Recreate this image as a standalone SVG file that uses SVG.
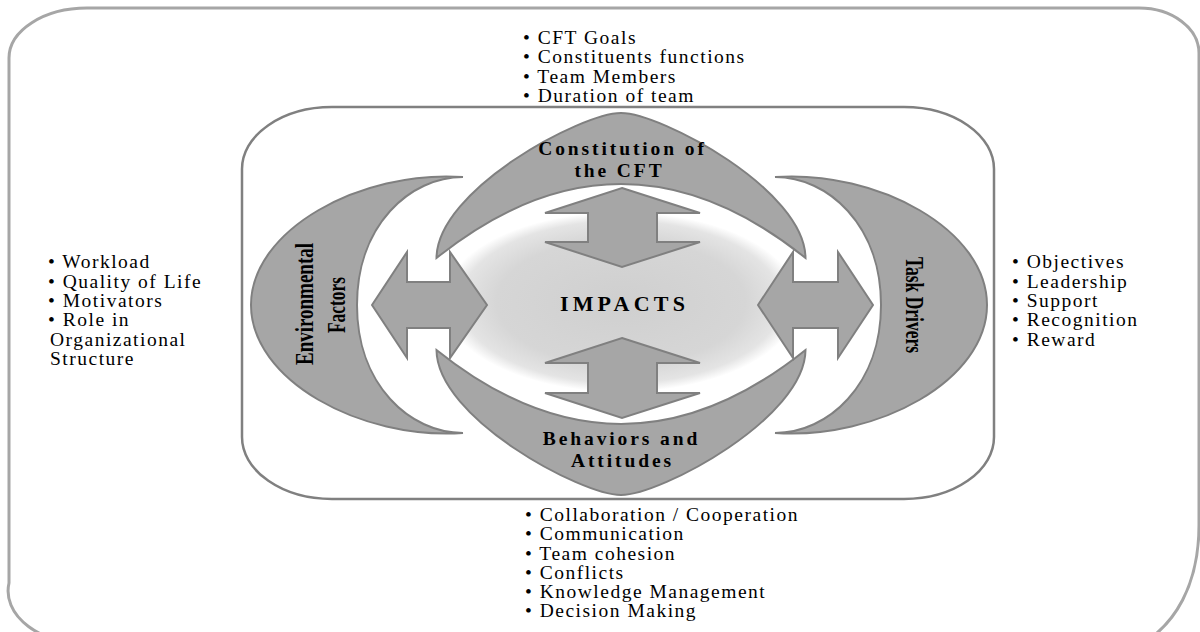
<svg xmlns="http://www.w3.org/2000/svg" width="1200" height="632" viewBox="0 0 1200 632">
  <defs>
    <radialGradient id="impGrad" cx="50%" cy="50%" r="50%">
      <stop offset="0" stop-color="#cfcfcf"/>
      <stop offset="0.7" stop-color="#d6d6d6"/>
      <stop offset="0.9" stop-color="#e4e4e4"/>
      <stop offset="1" stop-color="#ffffff"/>
    </radialGradient>
    <style>
      .shape { fill:#a6a6a6; stroke:#808080; stroke-width:2; stroke-linejoin:miter; }
      .arrow { fill:#a6a6a6; stroke:#808080; stroke-width:2; stroke-linejoin:miter; }
      .lbl { font-family:"Liberation Serif","Times New Roman",serif; font-weight:bold; font-size:19.5px; fill:#000; letter-spacing:2.9px; text-anchor:middle; }
      .rot { font-family:"Liberation Serif","Times New Roman",serif; font-weight:bold; font-size:25px; fill:#000; }
      .list { font-family:"Liberation Serif","Times New Roman",serif; font-size:19.5px; fill:#000; letter-spacing:1.5px; }
    </style>
  </defs>
  <rect width="1200" height="632" fill="#ffffff"/>

  <g id="outer-frame">
    <path d="M9,58 A78,50 0 0 1 87,8 H1139 A60,45 0 0 1 1199,53 V525 C1199,585 1175,625 1140,645 H92 A83,54 0 0 1 9,583 Z" fill="none" stroke="#a6a6a6" stroke-width="3"/>
  </g>

  <g id="inner-frame">
    <rect x="242" y="107" width="752" height="392" rx="90" ry="62" fill="none" stroke="#808080" stroke-width="2.5"/>
  </g>

  <g id="impacts">
    <ellipse cx="621" cy="302" rx="178" ry="90" fill="url(#impGrad)"/>
    <text class="lbl" x="624.5" y="311" style="font-size:22px;letter-spacing:4.2px">IMPACTS</text>
  </g>

  <g id="environmental">
    <path class="shape" d="M463,177 C360,170 251,230 251,305 C251,380 360,440 463,433 C410,433 357,385 357,305 C357,225 410,177 463,177 Z"/>
    <text class="rot" transform="translate(313,304) rotate(-90)" x="-61" y="0" textLength="122" lengthAdjust="spacingAndGlyphs">Environmental</text>
    <text class="rot" transform="translate(345,305) rotate(-90)" x="-28" y="0" textLength="56" lengthAdjust="spacingAndGlyphs">Factors</text>
  </g>

  <g id="task-drivers">
    <path class="shape" transform="matrix(-1,0,0,1,1238,0)" d="M463,177 C360,170 251,230 251,305 C251,380 360,440 463,433 C410,433 357,385 357,305 C357,225 410,177 463,177 Z"/>
    <text class="rot" transform="translate(906,305) rotate(90)" x="-48" y="0" textLength="96" lengthAdjust="spacingAndGlyphs">Task Drivers</text>
  </g>

  <g id="constitution">
    <path class="shape" d="M436.5,258 C437,190 581,113 621,113 C661,113 805,190 805.5,258 Q621,110 436.5,258 Z"/>
    <text class="lbl" x="622.5" y="155">Constitution of</text>
    <text class="lbl" x="619.5" y="176.5">the CFT</text>
  </g>

  <g id="behaviors">
    <path class="shape" transform="matrix(1,0,0,-1,0,608)" d="M436.5,258 C437,190 581,113 621,113 C661,113 805,190 805.5,258 Q621,110 436.5,258 Z"/>
    <text class="lbl" x="621.5" y="445">Behaviors and</text>
    <text class="lbl" x="622.5" y="467">Attitudes</text>
  </g>

  <g id="connectors">
    <polygon class="arrow" points="622,188 700,213 657,213 657,242 700,242 622,267 545,242 588,242 588,213 545,213"/>
    <polygon class="arrow" points="622,338 700,363 657,363 657,393 700,393 622,418 545,393 588,393 588,363 545,363"/>
    <polygon class="arrow" points="372,305 407,252 407,282 450,282 450,252 487,305 450,358 450,328 407,328 407,358"/>
    <polygon class="arrow" points="758,305 793,252 793,282 838,282 838,252 873,305 838,358 838,328 793,328 793,358"/>
  </g>

  <g id="list-constitution">
    <text class="list" x="523" y="43.5">• CFT Goals</text>
    <text class="list" x="523" y="63">• Constituents functions</text>
    <text class="list" x="523" y="82.5">• Team Members</text>
    <text class="list" x="523" y="102">• Duration of team</text>
  </g>

  <g id="list-environmental">
    <text class="list" x="48" y="268">• Workload</text>
    <text class="list" x="48" y="287.5">• Quality of Life</text>
    <text class="list" x="48" y="307">• Motivators</text>
    <text class="list" x="48" y="326">• Role in</text>
    <text class="list" x="50" y="345.5">Organizational</text>
    <text class="list" x="50" y="365">Structure</text>
  </g>

  <g id="list-task-drivers">
    <text class="list" x="1012" y="268">• Objectives</text>
    <text class="list" x="1012" y="287.5">• Leadership</text>
    <text class="list" x="1012" y="307">• Support</text>
    <text class="list" x="1012" y="326">• Recognition</text>
    <text class="list" x="1012" y="345.5">• Reward</text>
  </g>

  <g id="list-behaviors">
    <text class="list" x="525" y="521">• Collaboration / Cooperation</text>
    <text class="list" x="525" y="540">• Communication</text>
    <text class="list" x="525" y="559.5">• Team cohesion</text>
    <text class="list" x="525" y="579">• Conflicts</text>
    <text class="list" x="525" y="598">• Knowledge Management</text>
    <text class="list" x="525" y="617">• Decision Making</text>
  </g>
</svg>
